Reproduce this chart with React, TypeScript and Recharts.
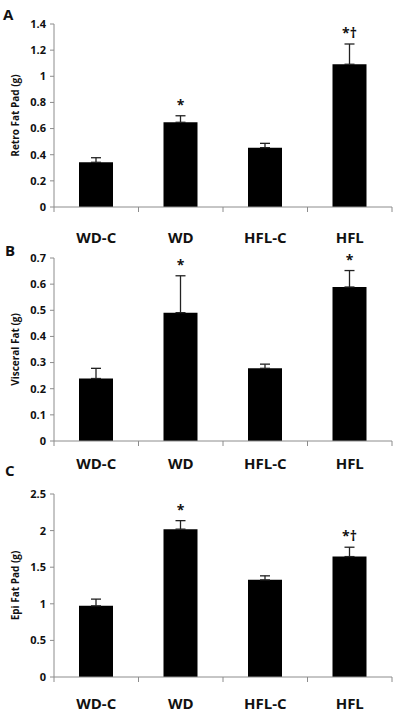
import React from "react";
import { BarChart, Bar, XAxis, YAxis, ErrorBar, LabelList } from "recharts";

const groups = ["WD-C", "WD", "HFL-C", "HFL"];

const retroMean = [0.342, 0.648, 0.454, 1.092];
const retroSem = [0.035, 0.05, 0.033, 0.155];
const retroMarks = ["", "*", "", "*†"];
const retroTicks = [0, 0.2, 0.4, 0.6, 0.8, 1, 1.2, 1.4];

const visceralMean = [0.239, 0.491, 0.278, 0.589];
const visceralSem = [0.039, 0.141, 0.016, 0.063];
const visceralMarks = ["", "*", "", "*"];
const visceralTicks = [0, 0.1, 0.2, 0.3, 0.4, 0.5, 0.6, 0.7];

const epiMean = [0.972, 2.02, 1.327, 1.645];
const epiSem = [0.092, 0.116, 0.055, 0.128];
const epiMarks = ["", "*", "", "*†"];
const epiTicks = [0, 0.5, 1, 1.5, 2, 2.5];

const FONT = "'Open Sans', Lato, sans-serif";
const AXIS = "#8c8c8c";

interface PanelProps {
  letter: string;
  top: number;
  height: number;
  marginTop: number;
  axisHeight: number;
  labelGap: number;
  letterLeft: number;
  letterTop: number;
  yLabel: string;
  mean: number[];
  sem: number[];
  marks: string[];
  ticks: number[];
}

function GroupTick(props: any) {
  const { x, y, payload, index, gap } = props;
  const half = payload?.offset ?? 42.25;
  const start = x - half;
  return (
    <g>
      <line x1={start} y1={y} x2={start} y2={y + 5} stroke={AXIS} />
      {index === groups.length - 1 && (
        <line x1={x + half} y1={y} x2={x + half} y2={y + 5} stroke={AXIS} />
      )}
      <text
        x={x}
        y={y + gap}
        textAnchor="middle"
        dominantBaseline="central"
        fontFamily={FONT}
        fontWeight={700}
        fontSize={15}
        fill="#111"
      >
        {payload.value}
      </text>
    </g>
  );
}

function Panel(p: PanelProps) {
  const data = groups.map((g, i) => ({
    group: g,
    value: p.mean[i],
    err: [0, p.sem[i]],
    mark: p.marks[i],
  }));
  const yMax = p.ticks[p.ticks.length - 1];

  // asterisk / dagger sits just above the top of the error bar
  const markLabel = (props: any) => {
    const { x, y, width, height, index } = props;
    const mark = p.marks[index];
    if (!mark) return null;
    const errTop = y - (p.sem[index] / p.mean[index]) * height;
    return (
      <text
        x={x + width / 2}
        y={errTop - 6}
        textAnchor="middle"
        fontFamily={FONT}
        fontWeight={700}
        fontSize={14}
        fill="#111"
      >
        {mark}
      </text>
    );
  };

  return (
    <div style={{ position: "absolute", left: 0, top: p.top, width: 400, height: p.height }}>
      <div
        style={{
          position: "absolute",
          left: p.letterLeft,
          top: p.letterTop,
          fontFamily: FONT,
          fontWeight: 700,
          fontSize: 15,
          lineHeight: "15px",
          color: "#111",
        }}
      >
        {p.letter}
      </div>
      <BarChart
        width={400}
        height={p.height}
        data={data}
        margin={{ top: p.marginTop, right: 8, left: 0, bottom: 0 }}
      >
        <XAxis
          dataKey="group"
          height={p.axisHeight}
          stroke={AXIS}
          tickLine={false}
          tickSize={0}
          tickMargin={0}
          interval={0}
          tick={<GroupTick gap={p.labelGap} />}
        />
        <YAxis
          width={54}
          domain={[0, yMax]}
          ticks={p.ticks}
          interval={0}
          stroke={AXIS}
          tickSize={4}
          tickMargin={4}
          tick={{ fontFamily: FONT, fontWeight: 700, fontSize: 11, fill: "#111" }}
          label={{
            content: (lp: any) => {
              const vb = lp.viewBox || { x: 0, y: 0, width: 54, height: 183 };
              const cy = vb.y + vb.height / 2;
              return (
                <text
                  x={15}
                  y={cy}
                  transform={`rotate(-90, 15, ${cy})`}
                  textAnchor="middle"
                  dominantBaseline="central"
                  fontFamily={FONT}
                  fontWeight={700}
                  fontSize={10}
                  fill="#111"
                >
                  {p.yLabel}
                </text>
              );
            },
          }}
        />
        <Bar dataKey="value" fill="#000" barSize={34} isAnimationActive={false}>
          <ErrorBar
            dataKey="err"
            direction="y"
            width={5}
            strokeWidth={1.3}
            stroke="#222"
            isAnimationActive={false}
          />
          <LabelList dataKey="mark" content={markLabel} />
        </Bar>
      </BarChart>
    </div>
  );
}

export default function App() {
  return (
    <div style={{ position: "absolute", left: 0, top: 0, width: 400, height: 719, background: "#fff" }}>
      <Panel
        letter="A"
        top={0}
        height={250}
        marginTop={24}
        axisHeight={43}
        labelGap={30}
        letterLeft={3}
        letterTop={7}
        yLabel="Retro Fat Pad (g)"
        mean={retroMean}
        sem={retroSem}
        marks={retroMarks}
        ticks={retroTicks}
      />
      <Panel
        letter="B"
        top={240}
        height={250}
        marginTop={18}
        axisHeight={49}
        labelGap={22}
        letterLeft={5}
        letterTop={3}
        yLabel="Visceral Fat (g)"
        mean={visceralMean}
        sem={visceralSem}
        marks={visceralMarks}
        ticks={visceralTicks}
      />
      <Panel
        letter="C"
        top={480}
        height={239}
        marginTop={14}
        axisHeight={42}
        labelGap={26}
        letterLeft={5}
        letterTop={-17}
        yLabel="Epi Fat Pad (g)"
        mean={epiMean}
        sem={epiSem}
        marks={epiMarks}
        ticks={epiTicks}
      />
    </div>
  );
}
